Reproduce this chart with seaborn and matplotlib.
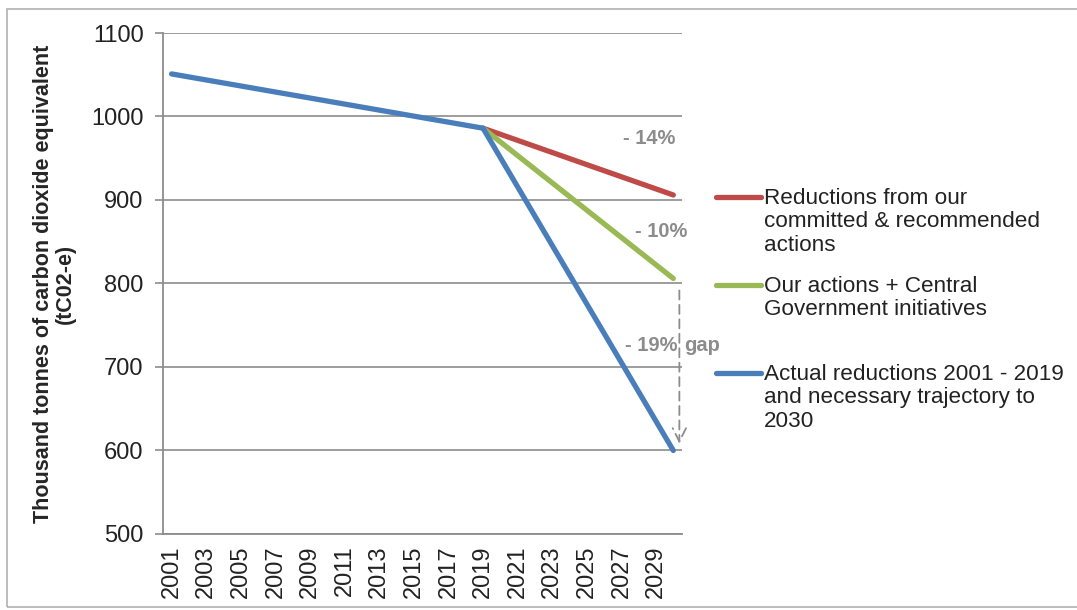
import matplotlib
matplotlib.use("Agg")
import matplotlib.pyplot as plt
from matplotlib.lines import Line2D
from matplotlib.patches import Rectangle
import seaborn as sns
import pandas as pd

# Emission pathways (thousand tCO2-e)
actual_years = [2001, 2019, 2030]
actual_values = [1051, 986, 600]
committed_years = [2019, 2030]
committed_values = [986, 906]
central_years = [2019, 2030]
central_values = [986, 806]

series_labels = [
    "Reductions from our\ncommitted & recommended\nactions",
    "Our actions + Central\nGovernment initiatives",
    "Actual reductions 2001 - 2019\nand necessary trajectory to\n2030",
]
series_colors = ["#BE4B48", "#98B954", "#4A7EBB"]

year_ticks = list(range(2001, 2030, 2))
y_ticks = [500, 600, 700, 800, 900, 1000, 1100]

sns.set_theme(style="white")
plt.rcParams["font.family"] = ["Liberation Sans", "DejaVu Sans"]

df = pd.concat([
    pd.DataFrame({"year": committed_years, "value": committed_values, "series": series_labels[0]}),
    pd.DataFrame({"year": central_years, "value": central_values, "series": series_labels[1]}),
    pd.DataFrame({"year": actual_years, "value": actual_values, "series": series_labels[2]}),
])

fig = plt.figure(figsize=(10.77, 6.10), dpi=100)
ax = fig.add_axes([0.1513, 0.1246, 0.4819, 0.8213])

for label, color in zip(series_labels, series_colors):
    sub = df[df["series"] == label]
    sns.lineplot(data=sub, x="year", y="value", color=color, lw=3.8, ax=ax,
                 solid_capstyle="round", legend=False, zorder=3)

ax.set_xlim(2000.5, 2030.5)
ax.set_ylim(500, 1100)
ax.set_yticks(y_ticks)
ax.set_yticklabels([str(v) for v in y_ticks], fontsize=17, color="#222222")
ax.set_xticks(year_ticks)
ax.set_xticklabels([str(y) for y in year_ticks], rotation=90, fontsize=17, color="#222222")
ax.set_xticks([y + 0.5 for y in range(2000, 2031)], minor=True)
ax.tick_params(axis="x", which="major", length=0, pad=8)
ax.tick_params(axis="x", which="minor", length=5, width=1.2, color="#8c8c8c", direction="out")
ax.tick_params(axis="y", length=6, width=1.2, color="#8c8c8c", direction="out", left=True, pad=8)
ax.set_xlabel("")
ax.set_ylabel("Thousand tonnes of carbon dioxide equivalent\n(tC02-e)",
              fontsize=15.5, fontweight="bold", labelpad=11, linespacing=1.05)

ax.yaxis.grid(True, color="#8c8c8c", lw=1.2)
ax.set_axisbelow(True)
for side in ["top", "right"]:
    ax.spines[side].set_visible(False)
for side in ["left", "bottom"]:
    ax.spines[side].set_color("#8c8c8c")
    ax.spines[side].set_linewidth(1.3)

# Annotations
note_color = "#8c8c8c"
ax.text(2028.6, 974, "- 14%", fontsize=14.5, fontweight="bold", color=note_color, ha="center", va="center")
ax.text(2029.3, 862, "- 10%", fontsize=14.5, fontweight="bold", color=note_color, ha="center", va="center")
ax.text(2030.25, 726, "- 19%", fontsize=14.5, fontweight="bold", color=note_color, ha="right", va="center")
ax.text(2030.6, 726, "gap", fontsize=14.5, fontweight="bold", color=note_color, ha="left", va="center",
        clip_on=False)
ax.annotate("", xy=(2030.35, 605), xytext=(2030.35, 795),
            arrowprops=dict(arrowstyle="->", color=note_color, lw=1.3, linestyle=(0, (5, 3)),
                            mutation_scale=24), annotation_clip=False)

# Legend beside the plot
legend_rows = [197, 285, 373]
for label, color, row in zip(series_labels, series_colors, legend_rows):
    yf = 1 - row / 610
    fig.add_artist(Line2D([716 / 1077, 761 / 1077], [yf, yf], color=color, lw=3.8,
                          solid_capstyle="round"))
    fig.text(764 / 1077, 1 - (row - 9) / 610, label, fontsize=16.2, color="#222222",
             va="top", ha="left", linespacing=1.15)

# Outer frame
fig.add_artist(Rectangle((7 / 1077, 0.005), 1.2, 1 - 9 / 610 - 0.005, transform=fig.transFigure,
                         fill=False, edgecolor="#b0b0b0", lw=1.2))

fig.savefig("out.png", dpi=100)
